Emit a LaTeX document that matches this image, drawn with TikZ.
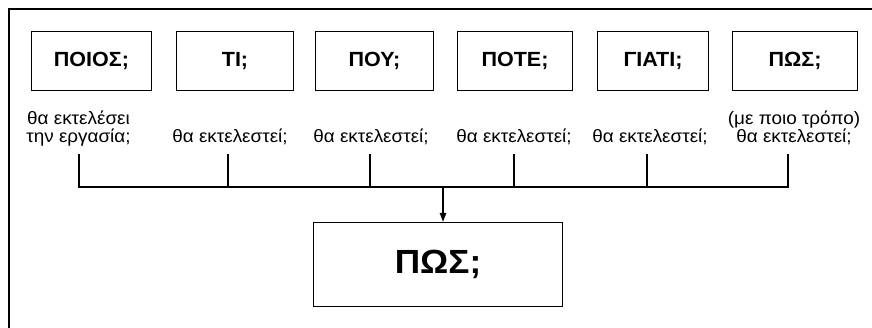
\documentclass[tikz,border=0pt]{standalone}
\usepackage{fontspec}
\setmainfont{Liberation Sans}
\newfontfamily\widesans[FakeStretch=1.05]{Liberation Sans}
\usetikzlibrary{arrows.meta}
\begin{document}
\begin{tikzpicture}[x=1pt,y=-1pt,
  qbox/.style={draw, line width=1.4pt, minimum height=59pt, inner sep=0pt,
    font=\widesans\fontsize{20.5}{24}\selectfont\bfseries},
  bigbox/.style={draw, line width=1.4pt, minimum width=249pt, minimum height=84pt,
    inner sep=0pt, font=\widesans\fontsize{33.5}{38}\selectfont\bfseries},
  lbl/.style={inner sep=0pt, align=center, font=\widesans\fontsize{18}{18}\selectfont},
  wire/.style={line width=1.4pt}]
\useasboundingbox (0,0) rectangle (872,327);
% outer frame
\draw[line width=2pt] (9,330) -- (9,9) -- (875,9);

% question boxes
\node[qbox, minimum width=120pt] (q1) at (91.5,61) {ΠΟΙΟΣ;};
\node[qbox, minimum width=117pt] (q2) at (235,61) {ΤΙ;};
\node[qbox, minimum width=118pt] (q3) at (374.5,61) {ΠΟΥ;};
\node[qbox, minimum width=115pt] (q4) at (515,61) {ΠΟΤΕ;};
\node[qbox, minimum width=111pt] (q5) at (653,61) {ΓΙΑΤΙ;};
\node[qbox, minimum width=125pt] (q6) at (795,61) {ΠΩΣ;};

% explanations
\node[lbl, anchor=base] (t1) at (78.5,142) {θα εκτελέσει\\την εργασία;};
\node[lbl, anchor=base] (t2) at (230,142) {θα εκτελεστεί;};
\node[lbl, anchor=base] (t3) at (371,142) {θα εκτελεστεί;};
\node[lbl, anchor=base] (t4) at (514,142) {θα εκτελεστεί;};
\node[lbl, anchor=base] (t5) at (650,142) {θα εκτελεστεί;};
\node[lbl, anchor=base] (t6) at (794,142) {(με ποιο τρόπο)\\θα εκτελεστεί;};

% stems and collecting bar
\foreach \i/\x in {1/79,2/228,3/370,4/514,5/647,6/788} {
  \coordinate (s\i) at (\x,154);
  \coordinate (j\i) at (\x,187);
}
\draw[wire] (s1) -- (j1) -- (j6) -- (s6);
\foreach \i in {2,3,4,5} \draw[wire] (s\i) -- (j\i);

% result box
\node[bigbox] (res) at (438,264.5) {ΠΩΣ;};
\coordinate (m) at (443,187);
\draw[wire, -{Triangle[length=9pt,width=6.5pt]}] (m) -- (m |- res.north);
\end{tikzpicture}
\end{document}
